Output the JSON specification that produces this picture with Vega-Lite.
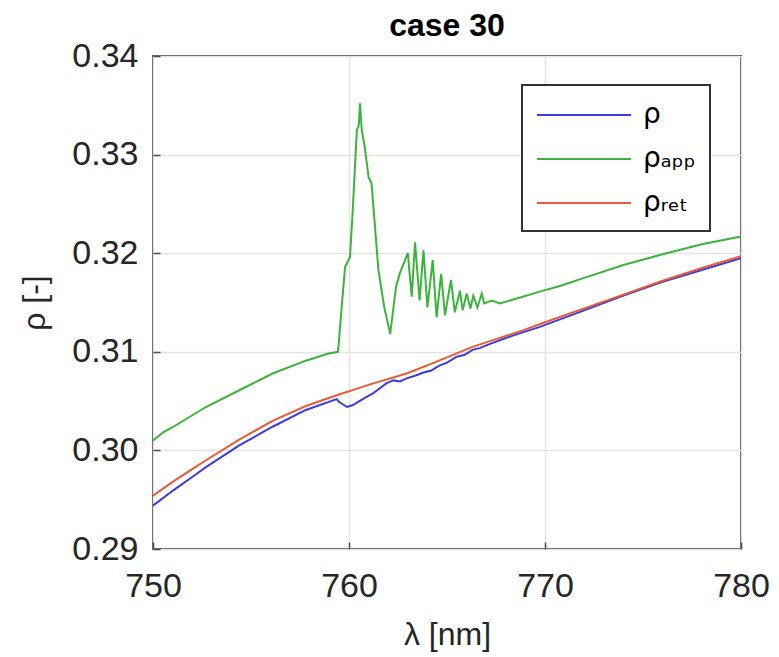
{
  "$schema": "https://vega.github.io/schema/vega-lite/v6.json",
  "width": 588,
  "height": 493,
  "autosize": {"type": "none"},
  "padding": {"left": 153, "top": 56, "right": 38, "bottom": 108},
  "background": "white",
  "title": {"text": "case 30", "font": "Liberation Sans", "fontSize": 32, "fontWeight": "bold", "color": "#000000", "offset": -4, "anchor": "middle"},
  "config": {
    "view": {"stroke": "#4d4d4d", "strokeWidth": 2},
    "axis": {"labelFont": "Liberation Sans", "titleFont": "Liberation Sans", "labelFontSize": 34, "titleFontSize": 32, "labelColor": "#262626", "titleColor": "#262626", "titleFontWeight": "normal", "gridColor": "#e3e3e3", "gridWidth": 1.5, "domain": false, "ticks": true, "tickSize": -7, "tickColor": "#4d4d4d", "tickWidth": 1.5},
    "legend": {"strokeWidth": 2}
  },
  "data": {"values": [
    {"l": 750, "s": "ρ", "v": 0.2944},
    {"l": 751, "s": "ρ", "v": 0.2959},
    {"l": 752, "s": "ρ", "v": 0.2973},
    {"l": 752.7, "s": "ρ", "v": 0.2983},
    {"l": 754.4, "s": "ρ", "v": 0.3005},
    {"l": 756.1, "s": "ρ", "v": 0.3024},
    {"l": 757.8, "s": "ρ", "v": 0.3041},
    {"l": 759.37, "s": "ρ", "v": 0.3052},
    {"l": 759.5, "s": "ρ", "v": 0.3049},
    {"l": 759.9, "s": "ρ", "v": 0.3044},
    {"l": 760.2, "s": "ρ", "v": 0.3046},
    {"l": 760.7, "s": "ρ", "v": 0.3052},
    {"l": 761.24, "s": "ρ", "v": 0.3058},
    {"l": 761.9, "s": "ρ", "v": 0.3068},
    {"l": 762.26, "s": "ρ", "v": 0.3071},
    {"l": 762.6, "s": "ρ", "v": 0.3070},
    {"l": 762.94, "s": "ρ", "v": 0.3073},
    {"l": 763.4, "s": "ρ", "v": 0.3076},
    {"l": 763.8, "s": "ρ", "v": 0.3079},
    {"l": 764.2, "s": "ρ", "v": 0.3081},
    {"l": 764.6, "s": "ρ", "v": 0.3086},
    {"l": 765.0, "s": "ρ", "v": 0.3089},
    {"l": 765.5, "s": "ρ", "v": 0.3095},
    {"l": 765.9, "s": "ρ", "v": 0.3097},
    {"l": 766.3, "s": "ρ", "v": 0.3102},
    {"l": 766.7, "s": "ρ", "v": 0.3104},
    {"l": 767.2, "s": "ρ", "v": 0.3108},
    {"l": 768, "s": "ρ", "v": 0.3114},
    {"l": 768.9, "s": "ρ", "v": 0.3120},
    {"l": 769.7, "s": "ρ", "v": 0.3125},
    {"l": 772, "s": "ρ", "v": 0.3142},
    {"l": 774, "s": "ρ", "v": 0.3157},
    {"l": 776, "s": "ρ", "v": 0.3171},
    {"l": 778, "s": "ρ", "v": 0.3183},
    {"l": 780, "s": "ρ", "v": 0.3195},
    {"l": 750, "s": "ρₐₚₚ", "v": 0.3010},
    {"l": 750.5, "s": "ρₐₚₚ", "v": 0.3018},
    {"l": 751.04, "s": "ρₐₚₚ", "v": 0.3024},
    {"l": 752.7, "s": "ρₐₚₚ", "v": 0.3044},
    {"l": 754.4, "s": "ρₐₚₚ", "v": 0.3061},
    {"l": 756.1, "s": "ρₐₚₚ", "v": 0.3078},
    {"l": 757.8, "s": "ρₐₚₚ", "v": 0.3091},
    {"l": 758.9, "s": "ρₐₚₚ", "v": 0.3098},
    {"l": 759.44, "s": "ρₐₚₚ", "v": 0.3100},
    {"l": 759.6, "s": "ρₐₚₚ", "v": 0.3139},
    {"l": 759.8, "s": "ρₐₚₚ", "v": 0.3186},
    {"l": 760.05, "s": "ρₐₚₚ", "v": 0.3196},
    {"l": 760.2, "s": "ρₐₚₚ", "v": 0.3247},
    {"l": 760.4, "s": "ρₐₚₚ", "v": 0.3325},
    {"l": 760.5, "s": "ρₐₚₚ", "v": 0.3330},
    {"l": 760.56, "s": "ρₐₚₚ", "v": 0.3352},
    {"l": 760.65, "s": "ρₐₚₚ", "v": 0.3325},
    {"l": 760.8, "s": "ρₐₚₚ", "v": 0.3308},
    {"l": 761.0, "s": "ρₐₚₚ", "v": 0.3277},
    {"l": 761.15, "s": "ρₐₚₚ", "v": 0.3271},
    {"l": 761.5, "s": "ρₐₚₚ", "v": 0.3183},
    {"l": 761.8, "s": "ρₐₚₚ", "v": 0.3145},
    {"l": 762.1, "s": "ρₐₚₚ", "v": 0.3118},
    {"l": 762.4, "s": "ρₐₚₚ", "v": 0.3166},
    {"l": 762.6, "s": "ρₐₚₚ", "v": 0.3180},
    {"l": 763.0, "s": "ρₐₚₚ", "v": 0.3200},
    {"l": 763.2, "s": "ρₐₚₚ", "v": 0.3156},
    {"l": 763.37, "s": "ρₐₚₚ", "v": 0.3211},
    {"l": 763.6, "s": "ρₐₚₚ", "v": 0.3152},
    {"l": 763.8, "s": "ρₐₚₚ", "v": 0.3203},
    {"l": 764.0, "s": "ρₐₚₚ", "v": 0.3145},
    {"l": 764.27, "s": "ρₐₚₚ", "v": 0.3193},
    {"l": 764.47, "s": "ρₐₚₚ", "v": 0.3135},
    {"l": 764.7, "s": "ρₐₚₚ", "v": 0.3179},
    {"l": 764.9, "s": "ρₐₚₚ", "v": 0.3137},
    {"l": 765.2, "s": "ρₐₚₚ", "v": 0.3173},
    {"l": 765.4, "s": "ρₐₚₚ", "v": 0.3140},
    {"l": 765.66, "s": "ρₐₚₚ", "v": 0.3162},
    {"l": 765.8, "s": "ρₐₚₚ", "v": 0.3142},
    {"l": 766.0, "s": "ρₐₚₚ", "v": 0.3159},
    {"l": 766.2, "s": "ρₐₚₚ", "v": 0.3144},
    {"l": 766.34, "s": "ρₐₚₚ", "v": 0.3157},
    {"l": 766.55, "s": "ρₐₚₚ", "v": 0.3145},
    {"l": 766.77, "s": "ρₐₚₚ", "v": 0.3159},
    {"l": 766.9, "s": "ρₐₚₚ", "v": 0.3149},
    {"l": 767.28, "s": "ρₐₚₚ", "v": 0.3152},
    {"l": 767.7, "s": "ρₐₚₚ", "v": 0.3149},
    {"l": 768.55, "s": "ρₐₚₚ", "v": 0.3154},
    {"l": 769.74, "s": "ρₐₚₚ", "v": 0.3161},
    {"l": 770.8, "s": "ρₐₚₚ", "v": 0.3167},
    {"l": 772, "s": "ρₐₚₚ", "v": 0.3175},
    {"l": 774, "s": "ρₐₚₚ", "v": 0.3188},
    {"l": 776, "s": "ρₐₚₚ", "v": 0.3199},
    {"l": 778, "s": "ρₐₚₚ", "v": 0.3209},
    {"l": 780, "s": "ρₐₚₚ", "v": 0.3217},
    {"l": 750, "s": "ρᵣₑₜ", "v": 0.2954},
    {"l": 751, "s": "ρᵣₑₜ", "v": 0.2968},
    {"l": 752, "s": "ρᵣₑₜ", "v": 0.2981},
    {"l": 752.7, "s": "ρᵣₑₜ", "v": 0.2990},
    {"l": 754.4, "s": "ρᵣₑₜ", "v": 0.3011},
    {"l": 756.1, "s": "ρᵣₑₜ", "v": 0.3030},
    {"l": 757.8, "s": "ρᵣₑₜ", "v": 0.3045},
    {"l": 759.37, "s": "ρᵣₑₜ", "v": 0.3056},
    {"l": 761.24, "s": "ρᵣₑₜ", "v": 0.3068},
    {"l": 762.94, "s": "ρᵣₑₜ", "v": 0.3078},
    {"l": 764.6, "s": "ρᵣₑₜ", "v": 0.3091},
    {"l": 766.3, "s": "ρᵣₑₜ", "v": 0.3105},
    {"l": 768.9, "s": "ρᵣₑₜ", "v": 0.3122},
    {"l": 770, "s": "ρᵣₑₜ", "v": 0.3130},
    {"l": 772, "s": "ρᵣₑₜ", "v": 0.3144},
    {"l": 774, "s": "ρᵣₑₜ", "v": 0.3158},
    {"l": 776, "s": "ρᵣₑₜ", "v": 0.3172},
    {"l": 778, "s": "ρᵣₑₜ", "v": 0.3185},
    {"l": 780, "s": "ρᵣₑₜ", "v": 0.3197}
  ]},
  "mark": {"type": "line", "strokeWidth": 2, "clip": true},
  "encoding": {
    "x": {"field": "l", "type": "quantitative", "scale": {"domain": [750, 780], "nice": false, "zero": false},
      "axis": {"values": [750, 760, 770, 780], "title": "λ [nm]", "labelPadding": 27, "titlePadding": 16, "labelFlush": false}},
    "y": {"field": "v", "type": "quantitative", "scale": {"domain": [0.29, 0.34], "nice": false, "zero": false},
      "axis": {"values": [0.29, 0.30, 0.31, 0.32, 0.33, 0.34], "format": ".2f", "title": "ρ [-]", "labelPadding": 22, "titlePadding": 20, "labelFlush": false}},
    "color": {"field": "s", "type": "nominal",
      "scale": {"domain": ["ρ", "ρₐₚₚ", "ρᵣₑₜ"], "range": ["#3b3be0", "#3cb43c", "#ec5a35"]},
      "legend": {"title": null, "orient": "none", "legendX": 369, "legendY": 29, "symbolType": "M-1,0H5.27", "symbolSize": 900, "symbolStrokeWidth": 2, "labelFont": "DejaVu Sans", "labelFontSize": 28, "labelColor": "#000000", "rowPadding": 14, "strokeColor": "#333333", "fillColor": "white", "padding": 14, "labelOffset": 75}},
    "order": {"field": "l", "type": "quantitative"}
  }
}
